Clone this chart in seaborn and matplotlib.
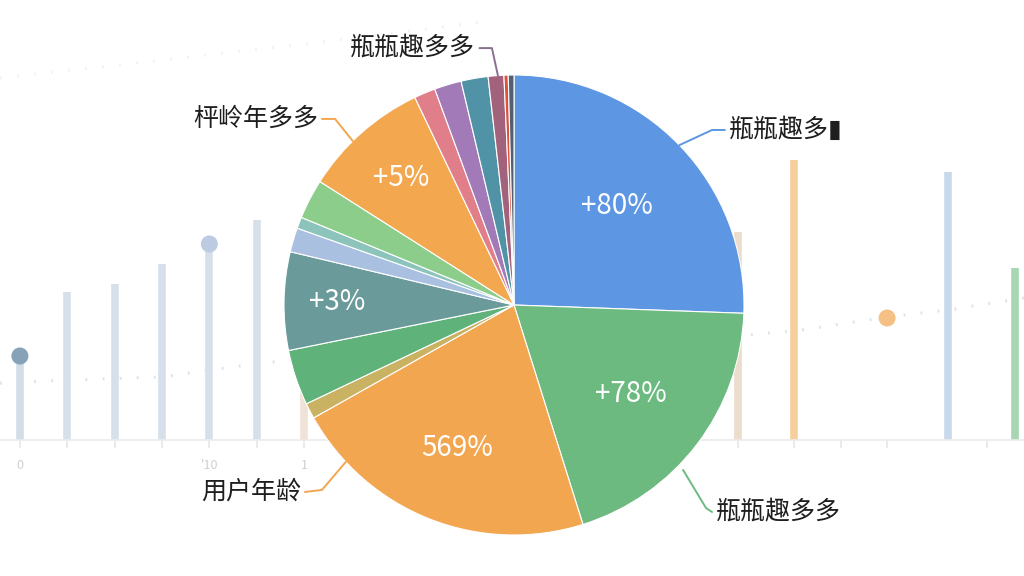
import numpy as np
import matplotlib
matplotlib.use("Agg")
import matplotlib.pyplot as plt
import seaborn as sns
import pandas as pd

# ---- pie data (clockwise from 12 o'clock) ----
slice_values = [25.6, 19.6, 21.7, 1.1, 3.9, 6.9, 1.7, 0.8, 2.8, 8.9, 1.5, 1.9, 1.9, 1.1, 0.3, 0.4]
slice_colors = ["#5d96e2", "#6cba80", "#f2a64f", "#c9b262", "#5eb27a", "#6b9a9b",
                "#a9c0e0", "#8cc3bb", "#8ccd8b", "#f3a84f", "#e07f8a", "#a27ab8",
                "#5093a6", "#a2627c", "#d9533f", "#54606f"]
inner_labels = {0: "+80%", 1: "+78%", 2: "569%", 5: "+3%", 9: "+5%"}
inner_dist = {0: 0.62, 1: 0.64, 2: 0.67, 5: 0.77, 9: 0.74}
outer_labels = {0: "瓶瓶趣多▮", 1: "瓶瓶趣多多", 2: "用户年龄", 9: "枰岭年多多", 13: "瓶瓶趣多多"}

# ---- faded background lollipop chart ----
bar_x = [0, 1, 2, 3, 4, 5, 6, 15.16, 16.34, 19.6, 21.0]
bar_h = [21, 37, 39, 44, 49, 55, 40, 52, 70, 67, 43]
bar_colors = ["#d3dde8", "#d6e0ea", "#d6e0ea", "#d6e0ea", "#d6e0ea", "#d6e0ea",
              "#f1e2d6", "#ecdccb", "#f6cf9c", "#c9d9ec", "#a9d6b2"]
dot_x = [0, 4, 18.31]
dot_y = [21, 49, 30.5]
dot_colors = ["#86a2b9", "#bccbe1", "#f5c084"]
line_x = [-0.42, 1, 3, 4, 5, 5.7, 14.7, 16.5, 18.3, 19.6, 21.2]
line_y = [14.2, 15, 15.75, 17.5, 19, 20, 25.5, 27.5, 30.75, 32.5, 35.5]
top_x = [-0.42, 3.38, 6.19, 9.73]
top_y = [90.5, 95.5, 99.25, 104.5]
tick_x = [0, 1, 2, 3, 4, 5, 6, 15.16, 16.34, 17.34, 18.31, 20.42]
tick_labels = ["0", "", "", "", "'10", "", "1", "", "", "", "", ""]

sns.set_theme(style="white")
plt.rcParams["font.family"] = ["Noto Sans CJK SC", "DejaVu Sans"]

fig = plt.figure(figsize=(10.24, 5.76), dpi=100)
fig.patch.set_facecolor("white")

# background axes
bg = fig.add_axes([0, 136 / 576, 1, 440 / 576])
bg.set_xlim(-0.42, 21.2)
bg.set_ylim(0, 110)
bg.vlines(bar_x, 0, bar_h, colors=bar_colors, lw=5.5, zorder=2)
sns.scatterplot(x=dot_x, y=dot_y, color=None, c=dot_colors, s=150, ax=bg,
                edgecolor="none", zorder=3, legend=False)
sns.lineplot(x=line_x, y=line_y, ax=bg, color="#dde3ea", lw=2.2,
             linestyle=(0, (0.6, 5)), zorder=1)
sns.lineplot(x=top_x, y=top_y, ax=bg, color="#f0f2f5", lw=2.2,
             linestyle=(0, (0.6, 5)), zorder=1)
for s in ["top", "right", "left"]:
    bg.spines[s].set_visible(False)
bg.spines["bottom"].set_color("#ebebeb")
bg.spines["bottom"].set_linewidth(1.2)
bg.set_xticks(tick_x)
bg.set_xticklabels(tick_labels, color="#cfcfcf", fontsize=9)
bg.tick_params(axis="x", bottom=True, length=6, color="#e8e8e8", pad=8)
bg.set_yticks([])
bg.set_facecolor("white")

# pie axes, 460px square centred on (514, 305)
ax = fig.add_axes([284 / 1024, (576 - 305 - 230) / 576, 460 / 1024, 460 / 576])
wedges, _ = ax.pie(slice_values, colors=slice_colors, startangle=90,
                   counterclock=False, radius=1,
                   wedgeprops=dict(edgecolor="white", linewidth=0.8))
ax.set_xlim(-1, 1)
ax.set_ylim(-1, 1)
ax.set_aspect("auto")
ax.axis("off")
ax.patch.set_alpha(0)

for i, txt in inner_labels.items():
    w = wedges[i]
    ang = np.deg2rad((w.theta1 + w.theta2) / 2)
    r = inner_dist[i]
    ax.text(r * np.cos(ang), r * np.sin(ang), txt, color="white",
            fontsize=20, ha="center", va="center")

# leader lines: anchor on pie edge -> elbow -> end, text side
leaders = {
    0: ([(0.719, 0.695), (0.861, 0.761), (0.917, 0.761)], "left"),
    1: ([(0.735, -0.717), (0.835, -0.883), (0.861, -0.9)], "left"),
    2: ([(-0.731, -0.682), (-0.835, -0.804), (-0.909, -0.813)], "right"),
    9: ([(-0.701, 0.713), (-0.778, 0.809), (-0.835, 0.809)], "right"),
    13: ([(-0.070, 0.998), (-0.096, 1.117), (-0.150, 1.117)], "right"),
}
leader_colors = {0: "#5d96e2", 1: "#6cba80", 2: "#f2a64f", 9: "#f2a64f", 13: "#8a6f8f"}
for i, txt in outer_labels.items():
    pts, side = leaders[i]
    xs, ys = zip(*pts)
    ax.plot(xs, ys, color=leader_colors[i], lw=1.4, clip_on=False)
    ex, ey = pts[-1]
    off = 0.018 if side == "left" else -0.018
    ax.text(ex + off, ey, txt, color="#1e1e1e", fontsize=18,
            ha=side, va="center", clip_on=False)

fig.savefig("out.png", dpi=100)
